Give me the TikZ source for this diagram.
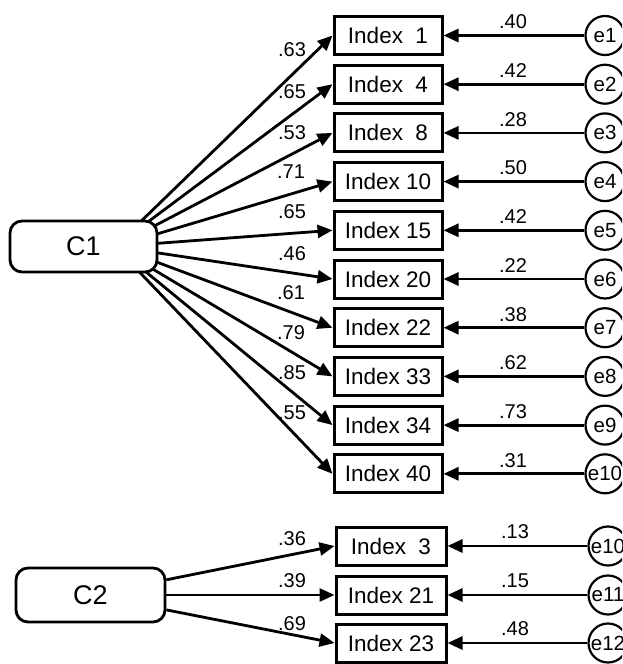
\documentclass[tikz,border=0pt]{standalone}
\usepackage{fontspec}
\setmainfont{Liberation Sans}
\usetikzlibrary{arrows.meta,backgrounds}
\begin{document}
\begin{tikzpicture}[x=1pt,y=-1pt,
 ind/.style={draw,line width=3pt,minimum width=108pt,minimum height=38pt,inner sep=0pt,font=\fontsize{22.5}{26}\selectfont},
 err/.style={draw,circle,line width=2.2pt,minimum size=39pt,inner sep=0pt,font=\fontsize{20.5}{24}\selectfont},
 lat/.style={draw,rounded corners=12pt,line width=2.8pt,fill=white,inner sep=0pt,font=\fontsize{27}{30}\selectfont},
 arr/.style={line width=2.8pt,-{Triangle[length=15pt,width=13pt]}},
 lab/.style={font=\fontsize{20}{24}\selectfont,inner sep=0pt}]
\useasboundingbox (0,0) rectangle (622,664);
\clip (0,0) rectangle (622,664);

% latent C1
\node[lat,minimum width=147pt,minimum height=51pt] (C1) at (83.5,246.5) {C1};
\coordinate (hub) at (115,246.5);

% indicators of C1
\foreach \n/\t/\e/\r [count=\i from 0] in {
  1/{Index\ \ 1}/e1/.40,
  4/{Index\ \ 4}/e2/.42,
  8/{Index\ \ 8}/e3/.28,
  10/{Index 10}/e4/.50,
  15/{Index 15}/e5/.42,
  20/{Index 20}/e6/.22,
  22/{Index 22}/e7/.38,
  33/{Index 33}/e8/.62,
  34/{Index 34}/e9/.73,
  40/{Index 40}/e10a/.31}{
  \pgfmathsetmacro{\yy}{35.5+48.7*\i}
  \node[ind] (I\n) at (388,\yy) {\t};
  \node[err] (\e) at (605,\yy) {\ifnum\i=9 e10\else\e\fi};
  \draw[arr] (\e) -- (I\n);
  \node[lab] (r\n) at (513,\yy-13.5) {\r};
}

\begin{scope}[on background layer]
\foreach \n in {1,4,8,10,15,20,22,33,34,40}
  \draw[arr] (hub) -- (I\n.west);
\end{scope}

% loadings of C1
\node[lab] (l1) at (292,50) {.63};
\node[lab] (l4) at (292,92) {.65};
\node[lab] (l8) at (292,133) {.53};
\node[lab] (l10) at (291,172) {.71};
\node[lab] (l15) at (292,212) {.65};
\node[lab] (l20) at (292,254) {.46};
\node[lab] (l22) at (291,293) {.61};
\node[lab] (l33) at (291,333) {.79};
\node[lab] (l34) at (292,373) {.85};
\node[lab] (l40) at (292,413) {.55};

% latent C2
\node[lat,minimum width=149pt,minimum height=54pt] (C2) at (90.5,595) {C2};
\node[ind,minimum width=110pt] (I3) at (391,546) {Index\ \ 3};
\node[ind,minimum width=110pt] (I21) at (391,595) {Index 21};
\node[ind,minimum width=110pt] (I23) at (391,643) {Index 23};
\node[err] (e10b) at (608,546) {e10};
\node[err] (e11) at (608,595) {e11};
\node[err] (e12) at (608,643) {e12};
\draw[arr] (C2) -- (I3.west);
\draw[arr] (C2) -- (I21.west);
\draw[arr] (C2) -- (I23.west);
\draw[arr] (e10b) -- (I3);
\draw[arr] (e11) -- (I21);
\draw[arr] (e12) -- (I23);
\node[lab] (l3) at (292,539) {.36};
\node[lab] (l21) at (292,581) {.39};
\node[lab] (l23) at (292,624) {.69};
\node[lab] (r3) at (515,532) {.13};
\node[lab] (r21) at (515,581) {.15};
\node[lab] (r23) at (515,629) {.48};
\end{tikzpicture}
\end{document}
